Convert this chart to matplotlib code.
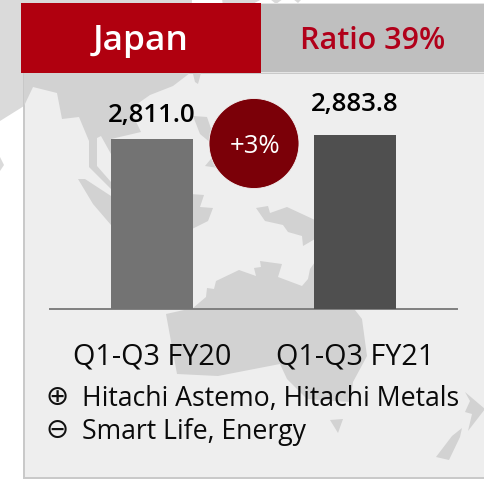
'''
Japan revenue panel: two bars over a faint map backdrop
'''

import matplotlib
matplotlib.use("Agg")
import matplotlib.pyplot as plt
from matplotlib.patches import Circle,Polygon,Rectangle

plt.rcParams['font.family']=['Open Sans','DejaVu Sans']

##########################################
# chart data

periods=["Q1-Q3 FY20","Q1-Q3 FY21"]
revenue=[2811.0,2883.8]
revenueLabels=["2,811.0","2,883.8"]
region="Japan"
ratioLabel="Ratio 39%"
changeLabel="+3%"
upLabel="Hitachi Astemo, Hitachi Metals"
downLabel="Smart Life, Energy"

# style of the bars, one value per bar
barColours=["#737373","#4f4f4f"]
labelOffsets=[17.5,22.5]   # points above the bar top

##########################################
# backdrop map outlines, in image pixels

asia=[(0,0),(192,0),(190,74),(173,87),(150,96),(130,110),(141,133),(111,140),(111,155),
      (101,137),(97,139),(97,167),(111,183),(111,190),(89,168),(89,142),(79,118),(62,120),
      (57,94),(33,88),(24,107),(0,122)]
topBits=[[(222,0),(262,0),(225,20)],[(270,0),(283,0),(276,5)],[(293,0),(302,0),(298,4)]]
japan=[(195,83),(193,75),(201,74),(198,85)]
islands=[(193,117),(207,118),(218,150),(200,135)]
celebes=[(205,167),(215,155),(225,170)]
sumatra=[(78,180),(85,180),(111,197),(111,226),(93,205)]
borneo=[(190,195),(204,196),(200,208),(213,209),(208,222),(190,231)]
guinea=[(256,209),(268,207),(270,214),(287,208),(315,221),(315,240),(303,247),(302,237),
        (288,233),(283,226),(265,222)]
australia=[(193,309),(206,298),(207,289),(214,290),(216,282),(239,271),(256,277),(254,269),
           (261,268),(260,262),(282,265),(278,278),(302,287),(308,280),(310,270),(315,263),
           (315,309),(355,311),(362,320),(367,357),(353,383),(350,403),(307,400),(287,380),
           (280,365),(218,377),(177,375),(166,315)]
tasmania=[(330,421),(343,420),(338,434)]
nzNorth=[(465,393),(485,410),(468,432),(472,415),(465,413),(470,402)]
nzSouth=[(462,429),(460,438),(449,461),(436,458),(452,437)]
westBit=[(0,158),(4,166),(0,172)]
mapShapes=[asia,japan,islands,celebes,sumatra,borneo,guinea,australia,tasmania,nzNorth,nzSouth,westBit]+topBits


##########################################

def drawBackdrop(ax):
  '''Map, panel, header boxes and the change bubble'''
  # map as it looks on white
  for shape in mapShapes:
    ax.add_patch(Polygon(shape,closed=True,fc="#dadada",ec="none",zorder=1))
  # panel
  panel=Rectangle((24,74),470,405,fc="#eeeeee",ec="#c8c8c8",lw=1.4,zorder=2)
  ax.add_patch(panel)
  # map again, darker within the panel
  for shape in mapShapes:
    p=Polygon(shape,closed=True,fc="#d2d2d2",ec="none",zorder=3)
    ax.add_patch(p)
    p.set_clip_path(panel)
  # header
  ax.add_patch(Rectangle((261,4),224,70,fc="#e4e4e4",ec="none",zorder=4))
  ax.add_patch(Rectangle((261,5),224,68,fc="#bfbfbf",ec="none",zorder=4))
  ax.add_patch(Rectangle((21,4),240,70,fc="#b0000f",ec="none",zorder=5))
  ax.text(140.5,41,region,color="white",fontsize=25.5,fontweight="semibold",ha="center",va="center",zorder=6)
  ax.text(373,41,ratioLabel,color="#b1001a",fontsize=22,fontweight="semibold",ha="center",va="center",zorder=6)
  # change bubble
  ax.add_patch(Circle((254,144.5),45,fc="#7b0008",ec="#f4f4f4",lw=0.6,zorder=6))
  ax.text(255,147,changeLabel,color="white",fontsize=18.5,ha="center",va="center",zorder=7)
  # drivers
  ax.text(57.5,397,"\u2295",family="DejaVu Sans",fontsize=20,color="#111111",ha="center",va="center",zorder=6)
  ax.text(57.5,430,"\u2296",family="DejaVu Sans",fontsize=20,color="#111111",ha="center",va="center",zorder=6)
  ax.text(82,399,upLabel,color="#0a0a0a",fontsize=19.2,ha="left",va="center",zorder=6)
  ax.text(82,432,downLabel,color="#0a0a0a",fontsize=19.2,ha="left",va="center",zorder=6)


##########################################

def drawBars(fig):
  '''The two bars on their own axes, baseline at pixel row 309.5'''
  w,h=485.,481.
  ax=fig.add_axes([50/w,(h-309.5)/h,407/w,219.5/h])
  ax.patch.set_alpha(0)
  pos=list(range(len(periods)))
  ax.bar(pos,revenue,width=82/203.,color=barColours,zorder=3)
  ax.set_xlim(-102/203.,1+102/203.)
  ax.set_ylim(0,3640)
  ax.set_xticks(pos)
  ax.set_xticklabels(periods,fontsize=20.7,color="#0a0a0a")
  ax.tick_params(axis="x",length=0,pad=23.5)
  ax.set_yticks([])
  for side in ["top","left","right"]:
    ax.spines[side].set_visible(False)
  ax.spines["bottom"].set_color("#7f7f7f")
  ax.spines["bottom"].set_linewidth(1.4)
  # value labels
  for x,v,lab,off in zip(pos,revenue,revenueLabels,labelOffsets):
    ax.annotate(lab,xy=(x,v),xytext=(0,off),textcoords="offset points",ha="center",va="center",
                fontsize=18.6,fontweight="semibold",color="black")
  return ax


##########################################

if __name__=="__main__":
  '''Main block'''
  fig=plt.figure(figsize=(4.85,4.81),dpi=100)
  back=fig.add_axes([0,0,1,1])
  back.set_xlim(0,485)
  back.set_ylim(481,0)
  back.axis("off")
  drawBackdrop(back)
  drawBars(fig)
  fig.savefig("out.png",dpi=100)
  print("Graph to out.png")
